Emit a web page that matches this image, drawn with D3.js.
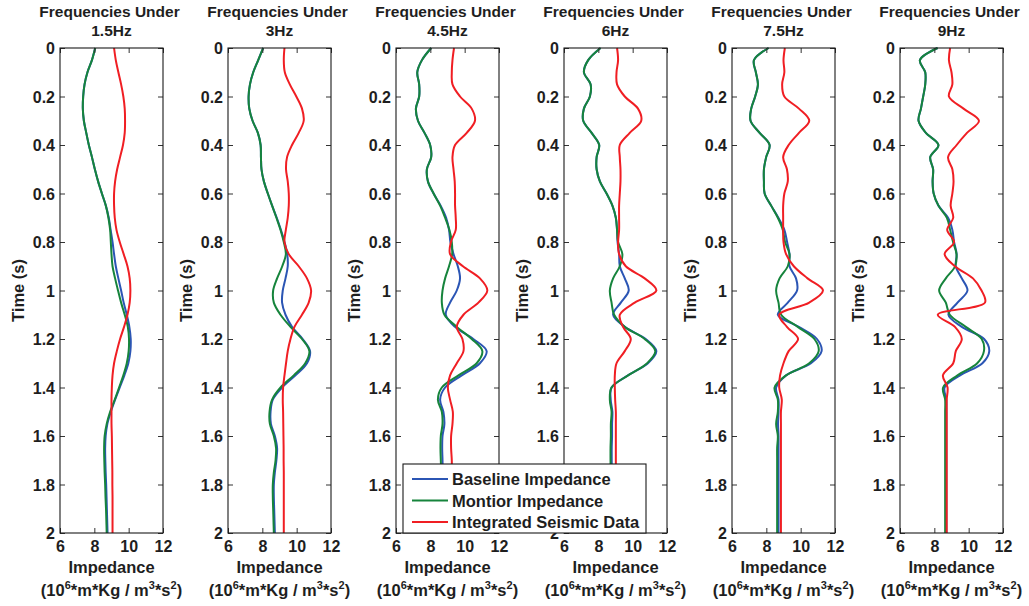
<!DOCTYPE html>
<html>
<head>
<meta charset="utf-8">
<script src="https://cdn.jsdelivr.net/npm/d3@7"></script>
<style>
  body { margin: 0; background: #fff; }
  text { font-family: "Liberation Sans", Arial, Helvetica, sans-serif; font-weight: bold; }
</style>
</head>
<body>
<svg id="chart" width="1029" height="606"></svg>
<script>
// Sample times (s), shared by every trace
const timeGrid = [0, 0.05, 0.1, 0.15, 0.2, 0.25, 0.3, 0.35, 0.4, 0.45,
  0.5, 0.55, 0.6, 0.65, 0.7, 0.75, 0.8, 0.85, 0.9, 0.95,
  1.0, 1.05, 1.1, 1.15, 1.2, 1.25, 1.3, 1.35, 1.4, 1.45,
  1.5, 1.55, 1.6, 1.65, 1.7, 1.75, 1.8, 1.85, 1.9, 1.95, 2.0];

const panelTitles = ["1.5Hz", "3Hz", "4.5Hz", "6Hz", "7.5Hz", "9Hz"];
const timeTicks = [0, 0.2, 0.4, 0.6, 0.8, 1, 1.2, 1.4, 1.6, 1.8, 2];
const timeTickLabels = ["0", "0.2", "0.4", "0.6", "0.8", "1", "1.2", "1.4", "1.6", "1.8", "2"];
const impedanceTicks = [6, 8, 10, 12];
const seriesNames = ["Baseline Impedance", "Montior Impedance", "Integrated Seismic Data"];

// Impedance (10^6 m*Kg / m^3*s^2), low-pass 1.5 Hz
const baseline1p5 = [8.05, 7.86, 7.6, 7.43, 7.35, 7.33, 7.39, 7.53, 7.68, 7.86, 8.03, 8.22, 8.44, 8.67, 8.84, 8.95, 9.06, 9.15, 9.25, 9.4, 9.56, 9.71, 9.89, 10.04, 10.12, 10.1, 9.98, 9.75, 9.48, 9.21, 8.96, 8.76, 8.66, 8.63, 8.64, 8.66, 8.69, 8.71, 8.73, 8.75, 8.77];
const monitor1p5 = [8.05, 7.86, 7.6, 7.43, 7.35, 7.33, 7.39, 7.53, 7.68, 7.86, 8.03, 8.22, 8.44, 8.67, 8.82, 8.92, 8.96, 9.0, 9.06, 9.21, 9.38, 9.56, 9.77, 9.95, 10.02, 10.0, 9.89, 9.69, 9.44, 9.19, 8.92, 8.72, 8.6, 8.57, 8.58, 8.6, 8.63, 8.65, 8.68, 8.7, 8.72];
const seismic1p5 = [9.15, 9.25, 9.4, 9.56, 9.69, 9.77, 9.79, 9.77, 9.67, 9.5, 9.33, 9.21, 9.15, 9.15, 9.19, 9.29, 9.48, 9.71, 9.93, 10.06, 10.1, 10.06, 9.93, 9.73, 9.5, 9.31, 9.15, 9.06, 9.02, 9.0, 9.0, 9.0, 9.02, 9.03, 9.04, 9.05, 9.05, 9.06, 9.06, 9.06, 9.06];

// low-pass 3 Hz
const baseline3 = [8.05, 7.76, 7.47, 7.28, 7.2, 7.24, 7.43, 7.74, 7.9, 7.92, 7.95, 8.09, 8.32, 8.57, 8.84, 9.08, 9.29, 9.45, 9.48, 9.35, 9.19, 9.15, 9.35, 9.73, 10.35, 10.78, 10.6, 9.93, 9.15, 8.61, 8.48, 8.5, 8.73, 8.86, 8.82, 8.73, 8.67, 8.67, 8.69, 8.71, 8.73];
const monitor3 = [8.05, 7.76, 7.47, 7.28, 7.2, 7.24, 7.43, 7.74, 7.9, 7.92, 7.95, 8.09, 8.32, 8.57, 8.82, 9.06, 9.25, 9.37, 9.16, 8.86, 8.63, 8.67, 9.06, 9.64, 10.31, 10.74, 10.5, 9.83, 9.06, 8.57, 8.42, 8.44, 8.67, 8.8, 8.77, 8.67, 8.61, 8.61, 8.63, 8.65, 8.67];
const seismic3 = [9.29, 9.25, 9.31, 9.6, 9.98, 10.31, 10.41, 10.12, 9.73, 9.44, 9.38, 9.48, 9.54, 9.54, 9.48, 9.37, 9.29, 9.54, 10.12, 10.6, 10.84, 10.7, 10.31, 9.87, 9.64, 9.48, 9.38, 9.29, 9.21, 9.19, 9.21, 9.22, 9.23, 9.24, 9.24, 9.25, 9.25, 9.25, 9.25, 9.25, 9.25];

// low-pass 4.5 Hz
const baseline4p5 = [8.05, 7.51, 7.24, 7.35, 7.35, 7.16, 7.28, 7.66, 7.99, 8.05, 7.8, 7.86, 8.19, 8.6, 8.92, 9.09, 9.17, 9.35, 9.6, 9.73, 9.54, 9.15, 8.9, 9.44, 10.5, 11.28, 10.89, 9.83, 8.86, 8.57, 8.76, 8.82, 8.71, 8.69, 8.71, 8.72, 8.72, 8.73, 8.73, 8.74, 8.74];
const monitor4p5 = [8.05, 7.51, 7.24, 7.35, 7.35, 7.16, 7.28, 7.66, 7.99, 8.05, 7.8, 7.86, 8.19, 8.57, 8.86, 9.11, 9.25, 9.27, 9.09, 8.86, 8.71, 8.67, 8.82, 9.54, 10.41, 11.03, 10.7, 9.64, 8.67, 8.44, 8.67, 8.71, 8.61, 8.59, 8.61, 8.63, 8.63, 8.64, 8.64, 8.65, 8.65];
const seismic4p5 = [9.38, 9.29, 9.25, 9.29, 9.73, 10.41, 10.6, 10.12, 9.44, 9.29, 9.35, 9.42, 9.44, 9.44, 9.48, 9.48, 9.2, 9.15, 9.9, 10.89, 11.32, 10.8, 9.93, 9.54, 9.87, 9.93, 9.54, 9.15, 9.02, 9.15, 9.31, 9.29, 9.21, 9.21, 9.25, 9.25, 9.25, 9.25, 9.25, 9.25, 9.25];

// low-pass 6 Hz
const baseline6 = [8.13, 7.41, 7.16, 7.55, 7.51, 7.16, 7.12, 7.61, 8.05, 7.9, 7.9, 8.09, 8.48, 8.82, 9.02, 9.09, 9.12, 9.21, 9.25, 9.54, 9.77, 9.31, 8.86, 9.54, 10.76, 11.38, 10.89, 9.73, 8.77, 8.72, 8.82, 8.8, 8.8, 8.78, 8.78, 8.78, 8.78, 8.78, 8.78, 8.78, 8.78];
const monitor6 = [8.13, 7.41, 7.16, 7.55, 7.51, 7.16, 7.12, 7.61, 8.05, 7.9, 7.9, 8.09, 8.48, 8.82, 9.02, 9.09, 9.15, 9.4, 9.25, 8.86, 8.67, 8.77, 8.92, 9.54, 10.7, 11.32, 10.84, 9.73, 8.77, 8.67, 8.77, 8.73, 8.73, 8.71, 8.71, 8.72, 8.72, 8.72, 8.72, 8.72, 8.72];
const seismic6 = [9.09, 9.15, 9.06, 9.09, 9.54, 10.31, 10.5, 9.83, 9.25, 9.25, 9.29, 9.29, 9.25, 9.21, 9.21, 9.21, 9.15, 9.21, 9.6, 10.7, 11.38, 10.12, 9.25, 9.44, 9.89, 9.54, 9.06, 8.96, 8.96, 8.98, 9.02, 9.02, 9.02, 9.02, 9.02, 9.02, 9.02, 9.02, 9.02, 9.02, 9.02];

// low-pass 7.5 Hz
const baseline7p5 = [8.13, 7.28, 7.39, 7.51, 7.35, 7.12, 7.08, 7.61, 8.19, 7.99, 7.86, 7.86, 7.9, 8.28, 8.7, 9.05, 9.21, 9.35, 9.35, 9.73, 9.79, 9.25, 8.67, 9.89, 10.95, 11.22, 10.6, 9.15, 8.57, 8.71, 8.71, 8.68, 8.71, 8.71, 8.71, 8.71, 8.71, 8.71, 8.71, 8.71, 8.71];
const monitor7p5 = [8.13, 7.28, 7.39, 7.51, 7.35, 7.12, 7.08, 7.61, 8.19, 7.99, 7.86, 7.86, 7.9, 8.28, 8.67, 8.96, 9.09, 9.35, 9.25, 8.77, 8.57, 8.71, 8.86, 9.83, 10.8, 11.05, 10.5, 9.15, 8.48, 8.67, 8.67, 8.57, 8.67, 8.63, 8.63, 8.63, 8.63, 8.63, 8.63, 8.63, 8.63];
const seismic7p5 = [9.08, 9.0, 9.05, 8.92, 9.05, 9.9, 10.5, 9.9, 9.3, 8.98, 9.2, 9.25, 9.05, 8.98, 8.98, 8.98, 9.0, 9.15, 9.6, 10.4, 11.3, 10.5, 8.75, 9.2, 9.85, 9.3, 9.0, 8.8, 8.75, 8.9, 8.85, 8.85, 8.85, 8.85, 8.85, 8.85, 8.85, 8.85, 8.85, 8.85, 8.85];

// low-pass 9 Hz
const baseline9 = [8.19, 7.16, 7.47, 7.47, 7.35, 7.22, 7.08, 7.51, 8.24, 7.76, 7.93, 7.9, 7.96, 8.24, 8.8, 9.05, 9.15, 9.3, 9.25, 9.6, 9.93, 9.35, 8.82, 9.6, 10.9, 11.2, 10.8, 9.5, 8.6, 8.7, 8.7, 8.7, 8.7, 8.7, 8.7, 8.7, 8.7, 8.7, 8.7, 8.7, 8.7];
const monitor9 = [8.19, 7.16, 7.47, 7.47, 7.35, 7.22, 7.08, 7.51, 8.24, 7.76, 7.93, 7.9, 7.96, 8.24, 8.73, 8.92, 9.09, 9.29, 9.21, 8.67, 8.28, 8.67, 8.9, 9.83, 10.76, 10.89, 10.5, 9.35, 8.51, 8.63, 8.63, 8.63, 8.63, 8.63, 8.63, 8.63, 8.63, 8.63, 8.63, 8.63, 8.63];
const seismic9 = [8.92, 8.85, 9.0, 9.05, 8.85, 9.7, 10.6, 9.9, 9.3, 8.8, 9.05, 9.12, 9.05, 8.95, 9.1, 8.75, 9.15, 8.6, 9.2, 10.25, 10.75, 10.95, 8.2, 9.2, 9.6, 9.25, 9.1, 8.5, 8.77, 8.72, 8.72, 8.72, 8.72, 8.72, 8.72, 8.72, 8.72, 8.72, 8.72, 8.72, 8.72];

const panelSeries = [
  [baseline1p5, monitor1p5, seismic1p5],
  [baseline3, monitor3, seismic3],
  [baseline4p5, monitor4p5, seismic4p5],
  [baseline6, monitor6, seismic6],
  [baseline7p5, monitor7p5, seismic7p5],
  [baseline9, monitor9, seismic9]
];

const seriesColors = ["#2b55b4", "#16843c", "#f01e23"];
const textColor = "#1e1e1e";

const svg = d3.select("#chart");
const plotTop = 48, plotW = 103, plotH = 485;

const panelLeft = d3.scalePoint().domain(panelTitles).range([60, 900]);
const x = d3.scaleLinear().domain([6, 12]).range([0, plotW]);
const y = d3.scaleLinear().domain([0, 2]).range([0, plotH]);

const line = d3.line()
  .x(d => x(d[1]))
  .y(d => y(d[0]))
  .curve(d3.curveCatmullRom.alpha(0.5));

function styleAxis(g) {
  g.select(".domain").remove();
  g.attr("font-family", null).attr("font-size", null);
  g.selectAll(".tick line").attr("stroke", "#333").attr("stroke-width", 1);
  g.selectAll(".tick text").attr("fill", textColor).attr("font-size", 16);
}

panelTitles.forEach((title, i) => {
  const g = svg.append("g")
    .attr("transform", `translate(${panelLeft(title)},${plotTop})`);

  // title
  const t = g.append("text")
    .attr("x", plotW / 2).attr("text-anchor", "middle")
    .attr("fill", textColor).attr("font-size", 15.5);
  t.append("tspan").attr("x", plotW / 2 - 2).attr("y", -31).text("Frequencies Under");
  t.append("tspan").attr("x", plotW / 2).attr("y", -12).text(title);

  // plot background
  g.append("rect").attr("width", plotW).attr("height", plotH).attr("fill", "#fff");

  // traces
  panelSeries[i].forEach((vals, k) => {
    g.append("path")
      .datum(timeGrid.map((tm, j) => [tm, vals[j]]))
      .attr("fill", "none")
      .attr("stroke", seriesColors[k])
      .attr("stroke-width", 2)
      .attr("stroke-linejoin", "round")
      .attr("d", line);
  });

  // axes with inward ticks on all four sides
  g.append("g")
    .call(d3.axisLeft(y).tickValues(timeTicks).tickFormat((d, j) => timeTickLabels[j])
      .tickSizeInner(-5).tickSizeOuter(0).tickPadding(5))
    .call(styleAxis)
    .call(a => a.selectAll(".tick text").attr("dy", null).attr("dominant-baseline", "central"));
  g.append("g").attr("transform", `translate(${plotW},0)`)
    .call(d3.axisRight(y).tickValues(timeTicks).tickFormat("")
      .tickSizeInner(-5).tickSizeOuter(0))
    .call(styleAxis);
  g.append("g").attr("transform", `translate(0,${plotH})`)
    .call(d3.axisBottom(x).tickValues(impedanceTicks).tickFormat(d3.format("d"))
      .tickSizeInner(-5).tickSizeOuter(0).tickPadding(5))
    .call(styleAxis)
    .call(a => a.selectAll(".tick text").attr("dy", null).attr("y", 19));
  g.append("g")
    .call(d3.axisTop(x).tickValues(impedanceTicks).tickFormat("")
      .tickSizeInner(-5).tickSizeOuter(0))
    .call(styleAxis);

  // frame
  g.append("rect").attr("width", plotW).attr("height", plotH)
    .attr("fill", "none").attr("stroke", "#1a1a1a").attr("stroke-width", 1.1);

  // y label
  g.append("text")
    .attr("transform", `translate(-42,${plotH / 2}) rotate(-90)`)
    .attr("text-anchor", "middle").attr("dominant-baseline", "central")
    .attr("fill", textColor).attr("font-size", 16.5)
    .text("Time (s)");

  // x label
  g.append("text")
    .attr("x", plotW / 2).attr("y", plotH + 40)
    .attr("text-anchor", "middle").attr("fill", textColor).attr("font-size", 16.5)
    .text("Impedance");
  const u = g.append("text")
    .attr("x", plotW / 2).attr("y", plotH + 63)
    .attr("text-anchor", "middle").attr("fill", textColor).attr("font-size", 16.5);
  u.append("tspan").text("(10");
  u.append("tspan").attr("font-size", 11).attr("dy", -7).text("6");
  u.append("tspan").attr("dy", 7).text("*m*Kg / m");
  u.append("tspan").attr("font-size", 11).attr("dy", -7).text("3");
  u.append("tspan").attr("dy", 7).text("*s");
  u.append("tspan").attr("font-size", 11).attr("dy", -7).text("2");
  u.append("tspan").attr("dy", 7).text(")");
});

// legend, drawn over the neighbouring axes
const legend = svg.append("g").attr("transform", "translate(403,464)");
legend.append("rect").attr("width", 243).attr("height", 69)
  .attr("fill", "#fff").attr("stroke", "#1a1a1a").attr("stroke-width", 1.1);
seriesNames.forEach((name, k) => {
  const ry = 15 + k * 21.5;
  legend.append("line").attr("x1", 9).attr("x2", 45).attr("y1", ry).attr("y2", ry)
    .attr("stroke", seriesColors[k]).attr("stroke-width", 2);
  legend.append("text").attr("x", 49).attr("y", ry)
    .attr("dominant-baseline", "central").attr("fill", textColor).attr("font-size", 16.5)
    .text(name);
});
</script>
</body>
</html>
